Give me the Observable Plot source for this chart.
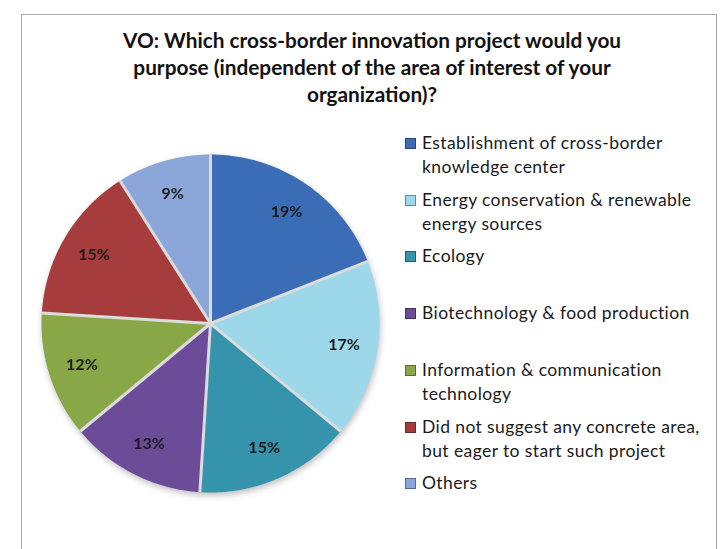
<!DOCTYPE html>
<html>
<head>
<meta charset="utf-8">
<script src="https://cdn.jsdelivr.net/npm/d3@7"></script>
<script src="https://cdn.jsdelivr.net/npm/@observablehq/plot@0.6"></script>
<style>
  html, body { margin: 0; padding: 0; background: #fff; width: 723px; height: 549px; overflow: hidden; font-family: Lato, "Open Sans", sans-serif; }
  #frame { position: absolute; left: 21px; top: 14px; width: 696px; height: 560px; border: 1.5px solid #a9a9a9; border-bottom: none; box-sizing: border-box; }
  #title { position: absolute; left: 0px; width: 744px; top: 26px; text-align: center; font-weight: 700; font-size: 20.8px; line-height: 27px; color: #111; }
  #pie { position: absolute; left: 40px; top: 153px; }
  #legend { position: absolute; left: 405px; top: 131px; }
  .item { position: absolute; left: 0; height: 56px; }
  .sw { position: absolute; left: 0; top: 7px; width: 9px; height: 9px; border: 0.5px solid rgba(0,0,0,0.35); }
  .lab { position: absolute; left: 17px; top: 0; white-space: pre; font-size: 17.5px; letter-spacing: 0.4px; line-height: 24px; color: #1a1a1a; }
</style>
</head>
<body>
<div id="frame"></div>
<div id="title">VO: Which cross-border innovation project would you<br>purpose (independent of the area of interest of your<br>organization)?</div>
<div id="pie"></div>
<div id="legend"></div>
<script>
const categories = [
  "Establishment of cross-border knowledge center",
  "Energy conservation & renewable energy sources",
  "Ecology",
  "Biotechnology & food production",
  "Information & communication technology",
  "Did not suggest any concrete area, but eager to start such project",
  "Others"
];
const legendLabels = [
  "Establishment of cross-border\nknowledge center",
  "Energy conservation & renewable\nenergy sources",
  "Ecology",
  "Biotechnology & food production",
  "Information & communication\ntechnology",
  "Did not suggest any concrete area,\nbut eager to start such project",
  "Others"
];
const values = [19, 17, 15, 13, 12, 15, 9];
const colors = ["#3a6db5", "#9cd8ea", "#3593ab", "#6c4b98", "#88a848", "#a73c3c", "#8ba7d9"];

const data = categories.map((c, i) => ({name: c, value: values[i]}));
const arcs = d3.pie().sort(null).value(d => d.value)(data);

// polygon points for each slice (angle measured clockwise from 12 o'clock)
const pts = [];
arcs.forEach(a => {
  pts.push({name: a.data.name, x: 0, y: 0});
  const n = Math.max(2, Math.ceil((a.endAngle - a.startAngle) / 0.01));
  for (let k = 0; k <= n; k++) {
    const t = a.startAngle + (a.endAngle - a.startAngle) * k / n;
    pts.push({name: a.data.name, x: Math.sin(t), y: Math.cos(t)});
  }
});
const seps = arcs.map(a => ({x1: 0, y1: 0, x2: Math.sin(a.startAngle), y2: Math.cos(a.startAngle)}));
const labels = arcs.map(a => {
  const m = (a.startAngle + a.endAngle) / 2;
  return {x: 0.8 * Math.sin(m), y: 0.8 * Math.cos(m), text: a.data.value + "%"};
});

const chart = Plot.plot({
  width: 340,
  height: 340,
  margin: 1,
  style: {background: "transparent", overflow: "visible"},
  x: {domain: [-1, 1], axis: null},
  y: {domain: [-1, 1], axis: null},
  color: {domain: categories, range: colors},
  marks: [
    Plot.line(pts, {x: "x", y: "y", z: "name", fill: "name", stroke: "none", curve: "linear-closed"}),
    Plot.link(seps, {x1: "x1", y1: "y1", x2: "x2", y2: "y2", stroke: "#dcdcdc", strokeWidth: 3}),
    Plot.text(labels, {x: "x", y: "y", text: "text", fontSize: 16, fontWeight: "bold", fill: "#1a1a1a", fontFamily: "Lato"})
  ]
});
chart.style.filter = "drop-shadow(1px 3px 3px rgba(0,0,0,0.25))";
document.getElementById("pie").appendChild(chart);

const color = chart.scale("color");
const leg = document.getElementById("legend");
categories.forEach((c, i) => {
  const it = document.createElement("div");
  it.className = "item";
  it.style.top = (i * 56.7) + "px";
  const sw = document.createElement("div");
  sw.className = "sw";
  sw.style.background = color.apply(c);
  const lab = document.createElement("div");
  lab.className = "lab";
  lab.textContent = legendLabels[i];
  it.appendChild(sw);
  it.appendChild(lab);
  leg.appendChild(it);
});
</script>
</body>
</html>
